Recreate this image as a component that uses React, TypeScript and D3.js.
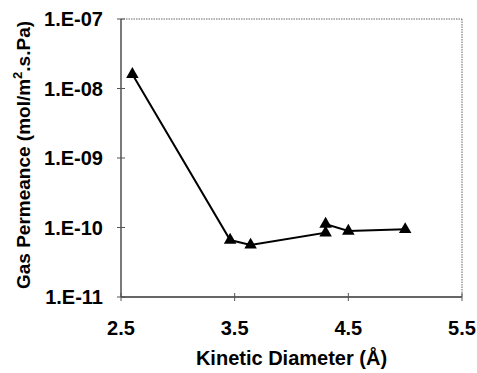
import React from 'react';
import * as d3 from 'd3';

// kinetic diameter (Å) vs gas permeance (mol/m2.s.Pa)
const diameters = [2.6, 3.46, 3.64, 4.3, 4.3, 4.5, 5.0];
const permeance = [1.6e-8, 6.6e-11, 5.6e-11, 8.4e-11, 1.12e-10, 8.9e-11, 9.4e-11];
const xTicks = [2.5, 3.5, 4.5, 5.5];
const yTicks = [1e-11, 1e-10, 1e-9, 1e-8, 1e-7];
const yTickLabels = ['1.E-11', '1.E-10', '1.E-09', '1.E-08', '1.E-07'];

const W = 477;
const H = 373;
const margin = { top: 19, right: 15, bottom: 76, left: 121 };

const App = () => {
  const x = d3.scaleLinear().domain([2.5, 5.5]).range([margin.left, W - margin.right]);
  const y = d3.scaleLog().domain([1e-11, 1e-7]).range([H - margin.bottom, margin.top]);

  const line = d3
    .line<number>()
    .x((_, i) => x(diameters[i]))
    .y(d => y(d));

  const tri = d3.symbol().type(d3.symbolTriangle).size(68);
  const font = "'Liberation Sans', Arial, sans-serif";

  const x0 = x.range()[0];
  const x1 = x.range()[1];
  const y0 = y.range()[0];
  const y1 = y.range()[1];

  return (
    <svg width={W} height={H} style={{ position: 'absolute', left: 0, top: 0, background: '#fff' }}>
      {/* plot frame */}
      <line x1={x0} x2={x1} y1={y1} y2={y1} stroke="#666" strokeWidth={1} strokeDasharray="1.5,1" />
      <line x1={x1} x2={x1} y1={y1} y2={y0} stroke="#666" strokeWidth={1} strokeDasharray="1.5,1" />
      <line x1={x0} x2={x0} y1={y1} y2={y0} stroke="#333" strokeWidth={1.3} />
      <line x1={x0} x2={x1} y1={y0} y2={y0} stroke="#333" strokeWidth={1.3} />

      {/* y ticks */}
      {yTicks.map((t, i) => (
        <g key={'y' + i}>
          <line x1={x0 - 4} x2={x0 + 4} y1={y(t)} y2={y(t)} stroke="#555" strokeWidth={1} />
          <text
            x={x0 - 18}
            y={y(t)}
            dy="0.36em"
            textAnchor="end"
            fontFamily={font}
            fontWeight="bold"
            fontSize={20}
            fill="#000"
          >
            {yTickLabels[i]}
          </text>
        </g>
      ))}

      {/* x ticks */}
      {xTicks.map((t, i) => (
        <g key={'x' + i}>
          <line x1={x(t)} x2={x(t)} y1={y0 - 4} y2={y0 + 4} stroke="#555" strokeWidth={1} />
          <text
            x={x(t)}
            y={y0 + 38}
            textAnchor="middle"
            fontFamily={font}
            fontWeight="bold"
            fontSize={20}
            fill="#000"
          >
            {t.toFixed(1)}
          </text>
        </g>
      ))}

      {/* data */}
      <path d={line(permeance) || ''} fill="none" stroke="#000" strokeWidth={2} />
      {permeance.map((p, i) => (
        <path key={'m' + i} d={tri() || ''} transform={`translate(${x(diameters[i])},${y(p)})`} fill="#000" />
      ))}

      {/* axis titles */}
      <text
        x={(x0 + x1) / 2}
        y={H - 8}
        textAnchor="middle"
        fontFamily={font}
        fontWeight="bold"
        fontSize={20}
        fill="#000"
      >
        Kinetic Diameter (Å)
      </text>
      <text
        transform={`translate(30,${(y0 + y1) / 2 - 3}) rotate(-90)`}
        textAnchor="middle"
        fontFamily={font}
        fontWeight="bold"
        fontSize={19}
        fill="#000"
      >
        Gas Permeance (mol/m
        <tspan dy={-8} fontSize={13}>2</tspan>
        <tspan dy={8}>.s.Pa)</tspan>
      </text>
    </svg>
  );
};

export default App;
